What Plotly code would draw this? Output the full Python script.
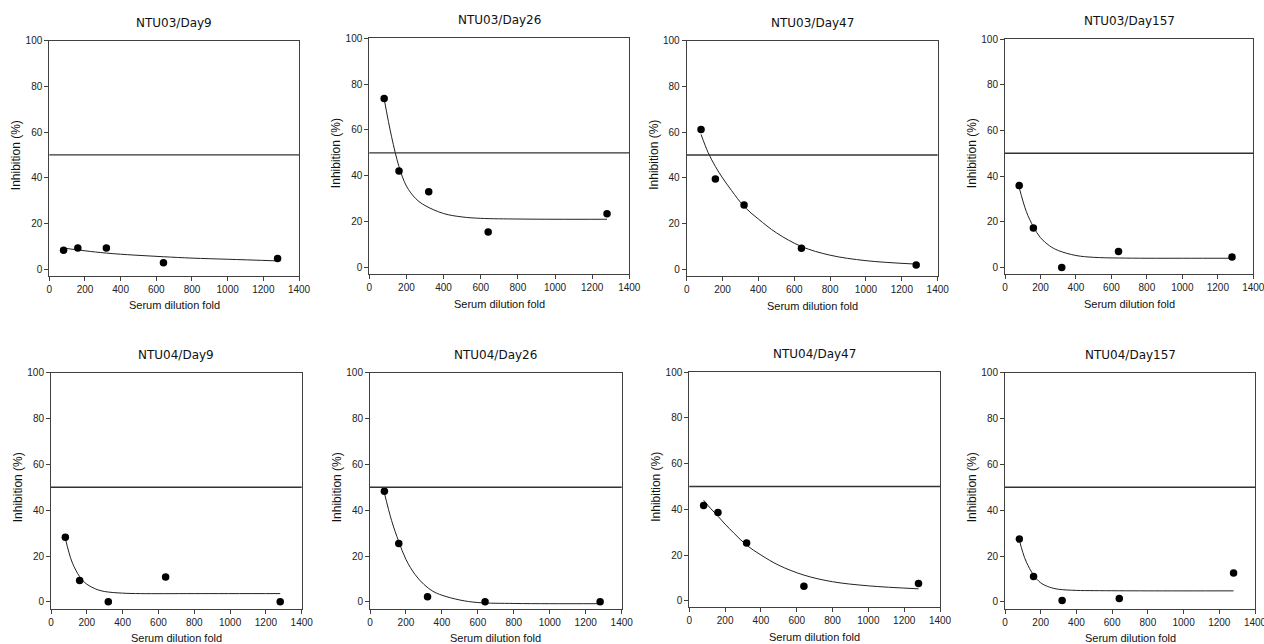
import plotly.graph_objects as go

OFF = 0
W, H = 1264, 644

titles = ["NTU03/Day9", "NTU03/Day26", "NTU03/Day47", "NTU03/Day157",
          "NTU04/Day9", "NTU04/Day26", "NTU04/Day47", "NTU04/Day157"]

dilution = [80, 160, 320, 640, 1280]

# measured inhibition (%) per panel
inh_ntu03_d9 = [8.2, 9.2, 9.2, 2.8, 4.6]
inh_ntu03_d26 = [73.7, 42.1, 33.0, 15.4, 23.4]
inh_ntu03_d47 = [61.2, 39.5, 28.1, 9.2, 1.9]
inh_ntu03_d157 = [35.8, 17.2, 0.0, 6.9, 4.5]
inh_ntu04_d9 = [28.2, 9.3, 0.0, 10.8, 0.0]
inh_ntu04_d26 = [48.3, 25.5, 2.2, 0.0, 0.0]
inh_ntu04_d47 = [41.7, 38.6, 25.3, 6.3, 7.5]
inh_ntu04_d157 = [27.4, 11.1, 0.6, 1.5, 12.6]

# fitted curves
fit_x_ntu03_d9 = [80, 200, 320, 480, 640, 800, 1000, 1280]
fit_y_ntu03_d9 = [9.2, 8.0, 7.0, 6.1, 5.4, 4.8, 4.3, 3.6]
fit_x_ntu03_d26 = [80, 120, 160, 200, 250, 300, 400, 500, 600, 800, 1000, 1280]
fit_y_ntu03_d26 = [73.5, 57, 44, 35.5, 30, 27, 23.5, 22, 21.4, 21.1, 21, 21]
fit_x_ntu03_d47 = [80, 120, 160, 200, 250, 320, 400, 500, 640, 800, 1000, 1280]
fit_y_ntu03_d47 = [59, 51, 45, 40, 34.5, 27.5, 22, 16, 10, 6.2, 3.8, 2.3]
fit_x_ntu03_d157 = [80, 120, 160, 200, 250, 300, 400, 500, 640, 800, 1000, 1280]
fit_y_ntu03_d157 = [35, 24.5, 17.8, 13, 9.5, 7.4, 5.2, 4.4, 4.1, 4, 4, 4]
fit_x_ntu04_d9 = [80, 100, 120, 160, 200, 250, 300, 400, 500, 800, 1280]
fit_y_ntu04_d9 = [27.7, 21.6, 16.9, 11, 7.7, 5.6, 4.5, 3.8, 3.6, 3.6, 3.6]
fit_x_ntu04_d26 = [80, 120, 160, 200, 250, 300, 350, 400, 500, 600, 800, 1000, 1280]
fit_y_ntu04_d26 = [47.5, 35.5, 26.3, 18.5, 12, 7.6, 4.6, 2.9, 0.8, -0.3, -0.7, -0.8, -0.8]
fit_x_ntu04_d47 = [80, 120, 160, 200, 250, 320, 400, 500, 640, 800, 1000, 1280]
fit_y_ntu04_d47 = [44, 40.3, 37, 33.5, 29.5, 24.3, 20, 15.5, 11.2, 8.3, 6.5, 5.2]
fit_x_ntu04_d157 = [80, 100, 120, 160, 200, 250, 300, 400, 500, 800, 1280]
fit_y_ntu04_d157 = [27, 21.5, 17.3, 11.7, 8.3, 6.4, 5.5, 5.0, 4.9, 4.8, 4.8]

threshold = 50
x_ticks = [0, 200, 400, 600, 800, 1000, 1200, 1400]
y_ticks = [0, 20, 40, 60, 80, 100]

points = [inh_ntu03_d9, inh_ntu03_d26, inh_ntu03_d47, inh_ntu03_d157,
          inh_ntu04_d9, inh_ntu04_d26, inh_ntu04_d47, inh_ntu04_d157]
fits = [(fit_x_ntu03_d9, fit_y_ntu03_d9), (fit_x_ntu03_d26, fit_y_ntu03_d26),
        (fit_x_ntu03_d47, fit_y_ntu03_d47), (fit_x_ntu03_d157, fit_y_ntu03_d157),
        (fit_x_ntu04_d9, fit_y_ntu04_d9), (fit_x_ntu04_d26, fit_y_ntu04_d26),
        (fit_x_ntu04_d47, fit_y_ntu04_d47), (fit_x_ntu04_d157, fit_y_ntu04_d157)]

# panel boxes in screen pixels: left, right, top, bottom
boxes = [(49.3, 299, 40.7, 275.7), (369.3, 629.3, 38.3, 274), (686.7, 937.7, 40.7, 276),
         (1005, 1253.3, 39, 274),
         (51, 301.7, 372.7, 608.5), (370, 621.7, 372.7, 608.5), (689.3, 940, 372.3, 607.3),
         (1005, 1255, 372.7, 608.5)]

YMIN, YMAX = -2.9, 100


def px(v):
    return (v - OFF) / W


def py(v):
    return 1 - (v - OFF) / H


fig = go.Figure()
layout = dict(width=W, height=H, margin=dict(l=0, r=0, t=0, b=0, autoexpand=False),
              paper_bgcolor="white", plot_bgcolor="white", showlegend=False,
              template="none")
annotations = []
shapes = []
axcol = "#404040"
tickfont = dict(family="Liberation Sans, Arial, sans-serif", size=10, color="#222")

for i in range(8):
    n = "" if i == 0 else str(i + 1)
    l, r, t, b = boxes[i]
    xd = [px(l), px(r)]
    yd = [py(b), py(t)]
    layout["xaxis" + n] = dict(domain=xd, range=[0, 1400], anchor="y" + n,
                               tickvals=x_ticks, ticks="outside", ticklen=4, tickwidth=1,
                               tickcolor=axcol, showline=True, linecolor=axcol, linewidth=1,
                               mirror=True, showgrid=False, zeroline=False, automargin=False,
                               ticklabeloverflow="allow",
                               tickfont=tickfont, fixedrange=True)
    layout["yaxis" + n] = dict(domain=yd, range=[YMIN, YMAX], anchor="x" + n,
                               tickvals=y_ticks, ticks="outside", ticklen=4, tickwidth=1,
                               tickcolor=axcol, showline=True, linecolor=axcol, linewidth=1,
                               mirror=True, showgrid=False, zeroline=False, automargin=False,
                               ticklabeloverflow="allow",
                               tickfont=tickfont, fixedrange=True)
    fx, fy = fits[i]
    fig.add_trace(go.Scatter(x=fx, y=fy, mode="lines", xaxis="x" + n, yaxis="y" + n,
                             line=dict(color="#222", width=1, shape="spline", smoothing=1.0),
                             hoverinfo="skip"))
    fig.add_trace(go.Scatter(x=dilution, y=points[i], mode="markers", xaxis="x" + n,
                             yaxis="y" + n, marker=dict(color="black", size=7.5)))
    shapes.append(dict(type="line", xref="x" + n + " domain", yref="y" + n,
                       x0=0, x1=1, y0=threshold, y1=threshold,
                       line=dict(color="#333", width=1.4)))
    cx = (l + r) / 2
    y100 = t
    y0 = t + (b - t) * (YMAX - 0) / (YMAX - YMIN)
    annotations.append(dict(text=titles[i], x=px(cx), y=py(t - 18), xref="paper",
                            yref="paper", showarrow=False, xanchor="center", yanchor="middle",
                            font=dict(family="DejaVu Sans, Verdana, sans-serif", size=12,
                                      color="#111")))
    annotations.append(dict(text="Serum dilution fold", x=px(cx), y=py(b + 29.5),
                            xref="paper", yref="paper", showarrow=False, xanchor="center",
                            yanchor="middle",
                            font=dict(family="Liberation Sans, Arial, sans-serif", size=11,
                                      color="#111")))
    annotations.append(dict(text="Inhibition (%)", x=px(l - 33), y=py((y100 + y0) / 2),
                            xref="paper", yref="paper", showarrow=False, xanchor="center",
                            yanchor="middle", textangle=-90,
                            font=dict(family="Liberation Sans, Arial, sans-serif", size=12,
                                      color="#111")))

layout["annotations"] = annotations
layout["shapes"] = shapes
fig.update_layout(**layout)
fig.write_html("out.html", config={"displayModeBar": False},
               post_script="document.body.style.margin='0px';"
                           "document.body.style.overflow='hidden';")
